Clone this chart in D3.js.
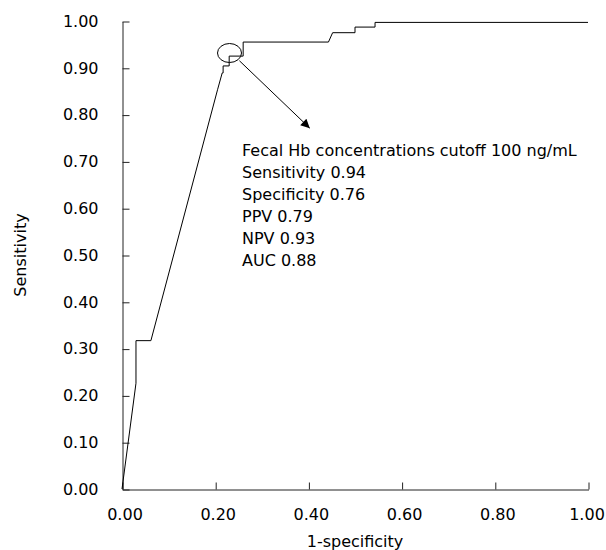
<!DOCTYPE html>
<html>
<head>
<meta charset="utf-8">
<script src="https://cdn.jsdelivr.net/npm/d3@7"></script>
<style>
  html, body { margin: 0; padding: 0; background: #fff; }
  svg { display: block; }
  text { font-family: "DejaVu Sans", Verdana, sans-serif; font-size: 16px; fill: #000; }
</style>
</head>
<body>
<svg id="chart" width="606" height="550"></svg>
<script>
// ROC curve points (1-specificity, sensitivity)
const fpr = [0.000, 0.030, 0.030, 0.062, 0.205, 0.215, 0.217, 0.217, 0.230, 0.230, 0.260, 0.260, 0.443, 0.452, 0.500, 0.500, 0.543, 0.543, 1.000];
const tpr = [0.000, 0.226, 0.317, 0.317, 0.853, 0.889, 0.889, 0.904, 0.904, 0.925, 0.925, 0.955, 0.955, 0.975, 0.975, 0.987, 0.987, 0.997, 0.997];

const xTicks = [0, 0.2, 0.4, 0.6, 0.8, 1.0];
const yTicks = [0, 0.1, 0.2, 0.3, 0.4, 0.5, 0.6, 0.7, 0.8, 0.9, 1.0];

const annotationLines = [
  "Fecal Hb concentrations cutoff 100 ng/mL",
  "Sensitivity 0.94",
  "Specificity 0.76",
  "PPV 0.79",
  "NPV 0.93",
  "AUC 0.88"
];
// circled cutoff point and arrow (data coords)
const cutoffPoint = [0.2307, 0.9316];
const arrowFrom = [0.252, 0.915];
const arrowTo = [0.403, 0.771];

const svg = d3.select("#chart");
const x = d3.scaleLinear().domain([0, 1]).range([122, 588]);
const y = d3.scaleLinear().domain([0, 1]).range([489, 21]);

// axes
const xAxis = d3.axisBottom(x).tickValues(xTicks).tickFormat(d3.format(".2f"))
  .tickSizeInner(-7).tickSizeOuter(0).tickPadding(0);
const gx = svg.append("g").attr("transform", "translate(0.5,489.5)").call(xAxis);
gx.selectAll("text").attr("y", 25).attr("dy", "0.35em")
  .attr("dx", d => d === 1 ? -2 : 2)
  .style("font-size", "16px").style("font-family", "DejaVu Sans, sans-serif");

const yAxis = d3.axisLeft(y).tickValues(yTicks).tickFormat(d3.format(".2f"))
  .tickSizeInner(-7).tickSizeOuter(0).tickPadding(24);
const gy = svg.append("g").attr("transform", "translate(122.5,0.5)").call(yAxis);
gy.selectAll("text").attr("dy", "0.3em")
  .style("font-size", "16px").style("font-family", "DejaVu Sans, sans-serif");

[gx, gy].forEach(g => {
  g.select(".domain").attr("stroke", "#222");
  g.selectAll(".tick line").attr("stroke", "#222");
});

// x-axis title
svg.append("text").attr("x", 355).attr("y", 541).attr("dy", "0.35em")
  .attr("text-anchor", "middle").text("1-specificity");
// y-axis title
svg.append("text").attr("transform", "translate(20,255) rotate(-90)")
  .attr("dy", "0.35em").attr("text-anchor", "middle").text("Sensitivity");

// ROC line
const pts = fpr.map((f, i) => [f, tpr[i]]);
svg.append("path")
  .datum(pts)
  .attr("fill", "none")
  .attr("stroke", "#000")
  .attr("stroke-width", 1)
  .attr("d", d3.line().x(d => x(d[0])).y(d => y(d[1])));

// ellipse around cutoff
svg.append("ellipse")
  .attr("cx", x(cutoffPoint[0])).attr("cy", y(cutoffPoint[1]))
  .attr("rx", 12).attr("ry", 9.5)
  .attr("fill", "none").attr("stroke", "#000").attr("stroke-width", 1);

// arrow
svg.append("defs").append("marker")
  .attr("id", "arrowhead")
  .attr("viewBox", "0 0 10 10")
  .attr("refX", 10).attr("refY", 5)
  .attr("markerWidth", 11).attr("markerHeight", 9)
  .attr("markerUnits", "userSpaceOnUse")
  .attr("orient", "auto")
  .append("path").attr("d", "M0,0 L10,5 L0,10 Z").attr("fill", "#000");

svg.append("line")
  .attr("x1", x(arrowFrom[0])).attr("y1", y(arrowFrom[1]))
  .attr("x2", x(arrowTo[0])).attr("y2", y(arrowTo[1]))
  .attr("stroke", "#000").attr("stroke-width", 1)
  .attr("marker-end", "url(#arrowhead)");

// annotation text
const ann = svg.append("g");
annotationLines.forEach((t, i) => {
  ann.append("text")
    .attr("x", 242)
    .attr("y", 150 + i * 22)
    .attr("dy", "0.35em")
    .text(t);
});
</script>
</body>
</html>
